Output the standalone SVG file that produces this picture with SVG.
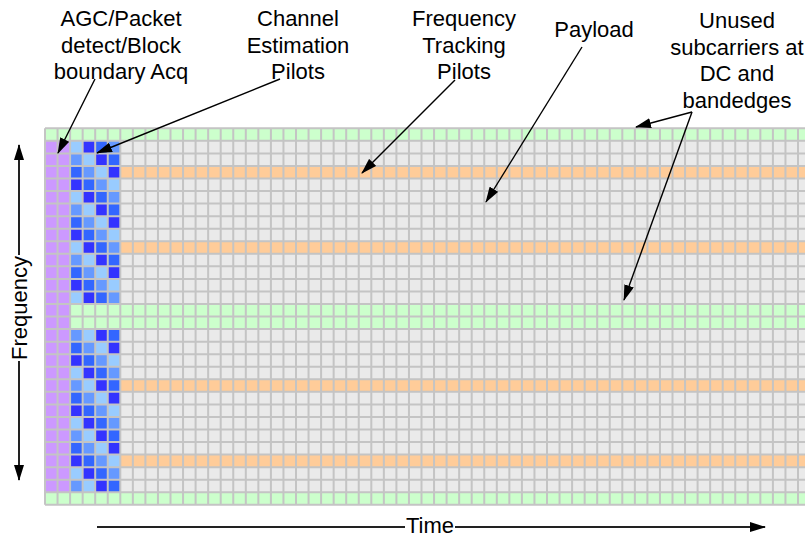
<svg xmlns="http://www.w3.org/2000/svg" width="805" height="538" viewBox="0 0 805 538">
<style>
  text { font-family: "Liberation Sans", Arial, sans-serif; font-size: 22px; fill: #000; }
  .lab { text-anchor: middle; }
  .c { stroke: #000; stroke-width: 1.4; fill: none; marker-end: url(#ah); }
  .ax { stroke: #222; stroke-width: 2; fill: none; }
  .gl { stroke: #C4C4C4; stroke-width: 2; fill: none; vector-effect: non-scaling-stroke; }
</style>
<defs>
  <marker id="ah" viewBox="0 0 16 10" refX="15" refY="5" markerWidth="16" markerHeight="10" markerUnits="userSpaceOnUse" orient="auto-start-reverse">
    <path d="M0,0 L16,5 L0,10 z" fill="#000"/>
  </marker>
</defs>
<rect width="805" height="538" fill="#fff"/>
<g id="grid" transform="translate(45,128.3) scale(12.55)">
  <rect x="0" y="0" width="62" height="30" fill="#EAEAEA"/>
  <path fill="#CCFFCC" d="M0,0h62v1h-62z M2,14h60v2h-60z M0,29h62v1h-62z"/>
  <path fill="#FFCC99" d="M6,3h56v1h-56z M6,9h56v1h-56z M6,20h56v1h-56z M6,26h56v1h-56z"/>
  <path fill="#CC99FF" d="M0,1h2v28h-2z"/>
  <path fill="#99CCFF" d="M2,1h1v1h-1z M3,2h1v1h-1z M4,3h1v1h-1z M5,4h1v1h-1z M2,5h1v1h-1z M3,6h1v1h-1z M4,7h1v1h-1z M5,8h1v1h-1z M2,9h1v1h-1z M3,10h1v1h-1z M4,11h1v1h-1z M5,12h1v1h-1z M2,13h1v1h-1z M3,16h1v1h-1z M4,17h1v1h-1z M5,18h1v1h-1z M2,19h1v1h-1z M3,20h1v1h-1z M4,21h1v1h-1z M5,22h1v1h-1z M2,23h1v1h-1z M3,24h1v1h-1z M4,25h1v1h-1z M5,26h1v1h-1z M2,27h1v1h-1z M3,28h1v1h-1z"/>
  <path fill="#3333FF" d="M3,1h1v1h-1z M4,2h1v1h-1z M5,3h1v1h-1z M2,4h1v1h-1z M3,5h1v1h-1z M4,6h1v1h-1z M5,7h1v1h-1z M2,8h1v1h-1z M3,9h1v1h-1z M4,10h1v1h-1z M5,11h1v1h-1z M2,12h1v1h-1z M3,13h1v1h-1z M4,16h1v1h-1z M5,17h1v1h-1z M2,18h1v1h-1z M3,19h1v1h-1z M4,20h1v1h-1z M5,21h1v1h-1z M2,22h1v1h-1z M3,23h1v1h-1z M4,24h1v1h-1z M5,25h1v1h-1z M2,26h1v1h-1z M3,27h1v1h-1z M4,28h1v1h-1z"/>
  <path fill="#3366FF" d="M4,1h1v1h-1z M5,2h1v1h-1z M2,3h1v1h-1z M3,4h1v1h-1z M4,5h1v1h-1z M5,6h1v1h-1z M2,7h1v1h-1z M3,8h1v1h-1z M4,9h1v1h-1z M5,10h1v1h-1z M2,11h1v1h-1z M3,12h1v1h-1z M4,13h1v1h-1z M5,16h1v1h-1z M2,17h1v1h-1z M3,18h1v1h-1z M4,19h1v1h-1z M5,20h1v1h-1z M2,21h1v1h-1z M3,22h1v1h-1z M4,23h1v1h-1z M5,24h1v1h-1z M2,25h1v1h-1z M3,26h1v1h-1z M4,27h1v1h-1z M5,28h1v1h-1z"/>
  <path fill="#6699FF" d="M5,1h1v1h-1z M2,2h1v1h-1z M3,3h1v1h-1z M4,4h1v1h-1z M5,5h1v1h-1z M2,6h1v1h-1z M3,7h1v1h-1z M4,8h1v1h-1z M5,9h1v1h-1z M2,10h1v1h-1z M3,11h1v1h-1z M4,12h1v1h-1z M5,13h1v1h-1z M2,16h1v1h-1z M3,17h1v1h-1z M4,18h1v1h-1z M5,19h1v1h-1z M2,20h1v1h-1z M3,21h1v1h-1z M4,22h1v1h-1z M5,23h1v1h-1z M2,24h1v1h-1z M3,25h1v1h-1z M4,26h1v1h-1z M5,27h1v1h-1z M2,28h1v1h-1z"/>
  <path class="gl" d="M0,0V30 M1,0V30 M2,0V30 M3,0V30 M4,0V30 M5,0V30 M6,0V30 M7,0V30 M8,0V30 M9,0V30 M10,0V30 M11,0V30 M12,0V30 M13,0V30 M14,0V30 M15,0V30 M16,0V30 M17,0V30 M18,0V30 M19,0V30 M20,0V30 M21,0V30 M22,0V30 M23,0V30 M24,0V30 M25,0V30 M26,0V30 M27,0V30 M28,0V30 M29,0V30 M30,0V30 M31,0V30 M32,0V30 M33,0V30 M34,0V30 M35,0V30 M36,0V30 M37,0V30 M38,0V30 M39,0V30 M40,0V30 M41,0V30 M42,0V30 M43,0V30 M44,0V30 M45,0V30 M46,0V30 M47,0V30 M48,0V30 M49,0V30 M50,0V30 M51,0V30 M52,0V30 M53,0V30 M54,0V30 M55,0V30 M56,0V30 M57,0V30 M58,0V30 M59,0V30 M60,0V30 M61,0V30 M62,0V30 M0,0H62 M0,1H62 M0,2H62 M0,3H62 M0,4H62 M0,5H62 M0,6H62 M0,7H62 M0,8H62 M0,9H62 M0,10H62 M0,11H62 M0,12H62 M0,13H62 M0,14H62 M0,15H62 M0,16H62 M0,17H62 M0,18H62 M0,19H62 M0,20H62 M0,21H62 M0,22H62 M0,23H62 M0,24H62 M0,25H62 M0,26H62 M0,27H62 M0,28H62 M0,29H62 M0,30H62"/>
</g>
<g id="labels">
  <text class="lab" x="121" y="26">AGC/Packet<tspan x="121" dy="26.5">detect/Block</tspan><tspan x="121" dy="26.5">boundary Acq</tspan></text>
  <text class="lab" x="298" y="26">Channel<tspan x="298" dy="26.5">Estimation</tspan><tspan x="298" dy="26.5">Pilots</tspan></text>
  <text class="lab" x="464" y="26">Frequency<tspan x="464" dy="26.5">Tracking</tspan><tspan x="464" dy="26.5">Pilots</tspan></text>
  <text class="lab" x="594" y="37">Payload</text>
  <text class="lab" x="737" y="28">Unused<tspan x="737" dy="26.5">subcarriers at</tspan><tspan x="737" dy="26.5">DC and</tspan><tspan x="737" dy="26.5">bandedges</tspan></text>
  <text x="430" y="533" text-anchor="middle">Time</text>
  <text transform="translate(27,308) rotate(-90)" text-anchor="middle">Frequency</text>
</g>
<g id="connectors">
  <line class="c" x1="95" y1="79" x2="58" y2="153"/>
  <line class="c" x1="280" y1="79" x2="97" y2="153"/>
  <line class="c" x1="455" y1="80" x2="362" y2="173"/>
  <line class="c" x1="582" y1="47" x2="486" y2="202"/>
  <line class="c" x1="692" y1="112" x2="636" y2="127"/>
  <line class="c" x1="692" y1="112" x2="624" y2="300"/>
  <path class="ax" d="M97,527 H405 M455,527 H765" marker-end="url(#ah)"/>
  <line class="ax" x1="19" y1="145" x2="19" y2="255" marker-start="url(#ah)"/>
  <line class="ax" x1="19" y1="361" x2="19" y2="480" marker-end="url(#ah)"/>
</g>
</svg>
